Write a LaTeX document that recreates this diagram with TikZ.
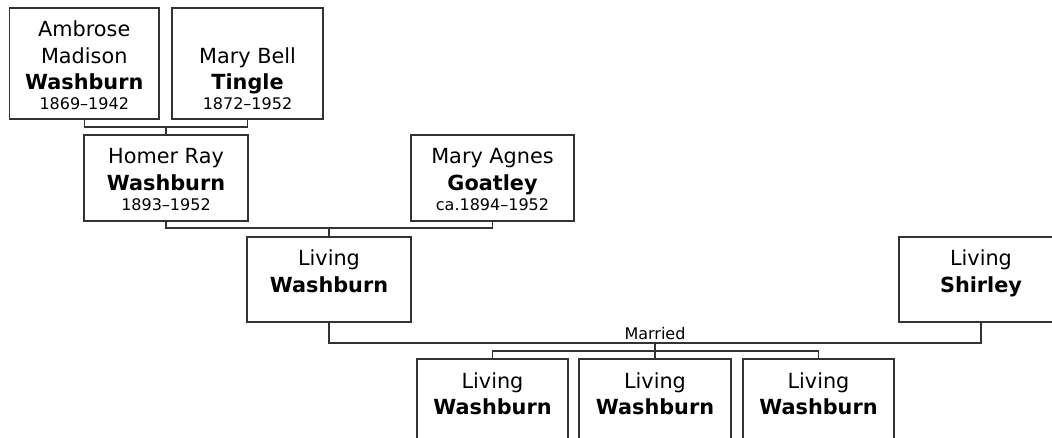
\documentclass[tikz,border=0pt]{standalone}
\usepackage{fontspec}
\setmainfont{DejaVu Sans}
\begin{document}
\begin{tikzpicture}[x=1pt,y=-1pt,
  box/.style={draw=black!80, line width=1.2pt, fill=white, inner sep=0pt, outer sep=0pt, rectangle},
  conn/.style={draw=black!80, line width=1.2pt},
  nm/.style={anchor=base, inner sep=0pt, font=\fontsize{20.8}{24}\selectfont},
  bnm/.style={anchor=base, inner sep=0pt, font=\fontsize{20.8}{24}\selectfont\bfseries},
  dt/.style={anchor=base, inner sep=0pt, font=\fontsize{16}{18}\selectfont}]
\clip (0,0) rectangle (1052,438);
\fill[white] (0,0) rectangle (1052,438);
% boxes
\node[box, minimum width=149.5pt, minimum height=111pt] (A) at (84.25,63.5) {};
\node[box, minimum width=151pt, minimum height=111pt] (B) at (247.5,63.5) {};
\node[box, minimum width=164pt, minimum height=86pt] (H) at (166,178) {};
\node[box, minimum width=163pt, minimum height=86pt] (G) at (492.5,178) {};
\node[box, minimum width=164pt, minimum height=85pt] (L) at (329,279.5) {};
\node[box, minimum width=164pt, minimum height=85pt] (S) at (981,279.5) {};
\node[box, minimum width=151pt, minimum height=85pt] (C1) at (492.5,401.5) {};
\node[box, minimum width=152pt, minimum height=85pt] (C2) at (655,401.5) {};
\node[box, minimum width=151pt, minimum height=85pt] (C3) at (818.5,401.5) {};
% connectors
\coordinate (m1) at (166,127);
\coordinate (m2) at (329,228);
\coordinate (m3) at (655,343);
\coordinate (m4) at (655,351);
\draw[conn] (A.south) |- (m1) -| (B.south);
\draw[conn] (m1) -- (H.north);
\draw[conn] (H.south) |- (m2) -| (G.south);
\draw[conn] (m2) -- (L.north);
\draw[conn] (L.south) |- (m3) -| (S.south);
\draw[conn] (m3) -- (m4);
\draw[conn] (C1.north) |- (m4) -| (C3.north);
\draw[conn] (m4) -- (C2.north);
\node[dt] (mar) at (655,339) {Married};
% texts
\node[nm] (a1) at (84.25,36.7) {Ambrose};
\node[nm] (a2) at (84.25,63.3) {Madison};
\node[bnm] (a3) at (84.25,90) {Washburn};
\node[dt] (a4) at (84.25,110) {1869–1942};
\node[nm] (b1) at (247.5,63.3) {Mary Bell};
\node[bnm] (b2) at (247.5,90) {Tingle};
\node[dt] (b3) at (247.5,110) {1872–1952};
\node[nm] (h1) at (166,164) {Homer Ray};
\node[bnm] (h2) at (166,190.7) {Washburn};
\node[dt] (h3) at (166,210.7) {1893–1952};
\node[nm] (g1) at (492.5,164) {Mary Agnes};
\node[bnm] (g2) at (492.5,190.7) {Goatley};
\node[dt] (g3) at (492.5,210.7) {ca.1894–1952};
\node[nm] (l1) at (329,266) {Living};
\node[bnm] (l2) at (329,292.7) {Washburn};
\node[nm] (s1) at (981,266) {Living};
\node[bnm] (s2) at (981,292.7) {Shirley};
\node[nm] (c11) at (492.5,388) {Living};
\node[bnm] (c12) at (492.5,414.7) {Washburn};
\node[nm] (c21) at (655,388) {Living};
\node[bnm] (c22) at (655,414.7) {Washburn};
\node[nm] (c31) at (818.5,388) {Living};
\node[bnm] (c32) at (818.5,414.7) {Washburn};
\end{tikzpicture}
\end{document}
